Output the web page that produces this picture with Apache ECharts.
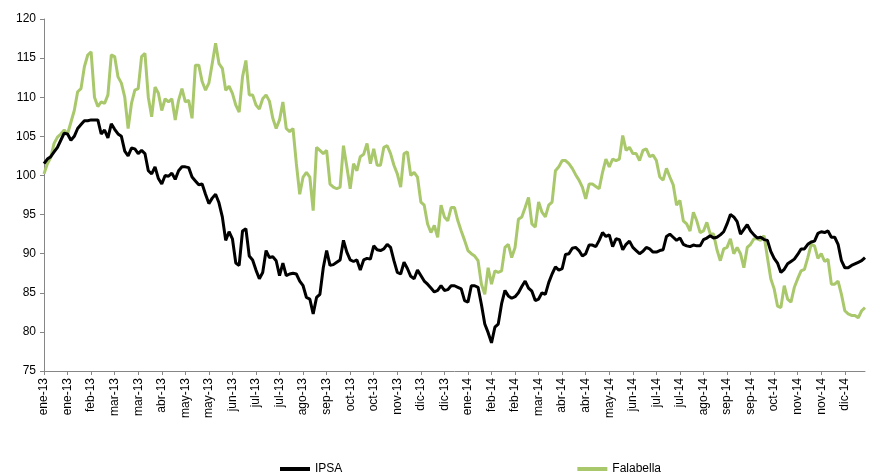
<!DOCTYPE html>
<html>
<head>
<meta charset="utf-8">
<script src="https://cdn.jsdelivr.net/npm/echarts@6/dist/echarts.min.js"></script>
<style>
  html, body { margin: 0; padding: 0; background: #fff; }
  #chart { width: 872px; height: 475px; }
</style>
</head>
<body>
<div id="chart"></div>
<script>
// tick labels, one every 7 points (points are every 2nd trading day)
var xLabels = ['ene-13', 'ene-13', 'feb-13', 'mar-13', 'mar-13', 'abr-13', 'may-13', 'may-13', 'jun-13', 'jul-13', 'jul-13',
    'ago-13', 'sep-13', 'oct-13', 'oct-13', 'nov-13', 'dic-13', 'dic-13', 'ene-14', 'feb-14', 'feb-14', 'mar-14', 'abr-14',
    'abr-14', 'may-14', 'jun-14', 'jul-14', 'jul-14', 'ago-14', 'sep-14', 'sep-14', 'oct-14', 'nov-14', 'nov-14', 'dic-14'];

var ipsa = [
    101.5, 102.1, 102.4, 103.0, 103.6, 104.5, 105.4, 105.3, 104.5, 105.0,
    106.0, 106.5, 107.0, 107.0, 107.1, 107.1, 107.1, 105.3, 105.8, 104.8,
    106.6, 105.9, 105.3, 105.0, 103.1, 102.5, 103.5, 103.4, 102.8, 103.2,
    102.8, 100.6, 100.2, 101.1, 99.6, 98.9, 100.0, 99.9, 100.3, 99.5,
    100.6, 101.1, 101.1, 101.0, 99.8, 99.3, 98.8, 98.9, 97.6, 96.4,
    97.1, 97.6, 96.5, 94.7, 91.7, 92.8, 91.9, 88.8, 88.5, 92.9,
    93.2, 89.7, 89.2, 87.9, 86.8, 87.6, 90.4, 89.5, 89.6, 89.1,
    87.2, 88.8, 87.2, 87.4, 87.5, 87.4, 86.5, 85.9, 84.4, 84.2,
    82.3, 84.4, 84.8, 88.2, 90.4, 88.5, 88.6, 88.9, 89.2, 91.7,
    90.2, 89.2, 89.0, 89.2, 87.9, 89.2, 89.4, 89.3, 91.0, 90.5,
    90.4, 90.6, 91.2, 90.8, 89.1, 87.6, 87.4, 88.9, 88.1, 87.1,
    86.8, 87.9, 87.2, 86.5, 86.1, 85.6, 85.1, 85.3, 85.9, 85.3,
    85.4, 85.9, 85.9, 85.7, 85.5, 84.0, 83.8, 85.9, 85.9, 85.7,
    83.5, 81.0, 79.9, 78.6, 80.6, 81.0, 83.6, 85.3, 84.6, 84.3,
    84.5, 85.0, 85.8, 86.5, 85.6, 85.2, 84.0, 84.2, 85.0, 84.8,
    86.3, 87.4, 88.3, 87.9, 88.1, 89.9, 90.0, 90.7, 90.8, 90.4,
    89.7, 90.0, 91.1, 91.1, 90.9, 91.7, 92.7, 92.2, 92.4, 90.9,
    91.9, 91.8, 90.5, 91.2, 91.6, 90.8, 90.4, 90.0, 90.3, 90.8,
    90.6, 90.2, 90.2, 90.4, 90.5, 92.2, 92.5, 92.1, 91.7, 92.0,
    91.2, 91.0, 90.9, 91.1, 91.0, 91.0, 91.8, 92.0, 92.3, 92.0,
    92.1, 92.4, 92.8, 93.8, 95.0, 94.7, 94.1, 92.5, 93.1, 93.7,
    92.9, 92.4, 92.0, 92.1, 91.8, 91.7, 90.3, 89.4, 88.8, 87.6,
    88.0, 88.7, 89.0, 89.3, 89.9, 90.6, 90.6, 91.2, 91.5, 91.6,
    92.6, 92.8, 92.7, 92.9, 92.1, 92.1, 91.2, 89.1, 88.2, 88.2,
    88.5, 88.7, 88.9, 89.1, 89.5
];

var falabella = [
    100.2, 101.5, 102.3, 104.1, 104.9, 105.3, 105.8, 105.3, 106.8, 108.3,
    110.7, 111.1, 113.9, 115.4, 115.8, 110.0, 108.8, 109.4, 109.2, 110.3,
    115.4, 115.2, 112.6, 111.8, 110.0, 106.0, 109.2, 110.9, 111.1, 115.2,
    115.6, 110.0, 107.5, 111.3, 110.5, 108.3, 109.8, 109.4, 109.8, 107.1,
    109.6, 111.1, 109.4, 109.6, 107.3, 114.1, 114.1, 112.0, 110.9, 111.8,
    114.3, 116.9, 114.3, 113.7, 110.9, 111.4, 110.5, 109.0, 108.1, 112.6,
    114.7, 110.3, 110.3, 109.0, 108.5, 109.8, 110.3, 109.5, 107.3, 106.0,
    107.1, 109.4, 106.0, 105.6, 106.0, 101.5, 97.6, 99.8, 100.4, 99.8,
    95.5, 103.6, 103.2, 102.8, 103.2, 98.9, 98.5, 98.3, 98.5, 103.8,
    101.1, 98.3, 101.5, 100.6, 102.4, 102.7, 104.1, 101.5, 103.4, 101.3,
    101.3, 103.6, 103.8, 102.8, 101.3, 100.2, 98.5, 102.8, 103.0, 100.0,
    100.4, 99.8, 96.6, 96.2, 93.8, 92.7, 93.6, 92.1, 96.2, 94.7,
    94.2, 95.9, 95.9, 94.2, 92.9, 91.7, 90.4, 90.0, 89.7, 89.1,
    86.1, 84.8, 88.2, 86.1, 87.8, 87.6, 87.8, 90.8, 91.2, 89.5,
    90.8, 94.4, 94.7, 95.9, 97.2, 93.8, 93.4, 96.6, 95.3, 94.7,
    96.2, 96.6, 100.6, 101.1, 101.9, 101.9, 101.5, 100.9, 100.1, 99.4,
    98.5, 97.0, 98.9, 98.9, 98.6, 98.3, 100.4, 102.1, 101.1, 102.1,
    101.9, 102.1, 105.1, 103.2, 103.6, 102.8, 102.8, 101.9, 103.2, 103.4,
    102.4, 102.6, 101.9, 99.8, 99.4, 100.9, 99.8, 98.8, 96.2, 96.8,
    94.2, 93.8, 92.9, 95.3, 94.2, 92.7, 92.9, 94.0, 92.5, 92.5,
    90.5, 89.1, 90.6, 90.8, 91.9, 90.0, 90.8, 90.0, 88.2, 90.8,
    91.2, 91.9, 91.9, 91.7, 92.3, 89.5, 86.8, 85.5, 83.3, 83.1,
    85.9, 84.2, 83.8, 85.7, 86.8, 87.8, 88.0, 89.5, 91.2, 91.0,
    89.4, 90.0, 89.0, 89.3, 86.1, 86.1, 86.5, 84.8, 82.7, 82.3,
    82.1, 82.1, 81.8, 82.7, 83.1
];

var labelStep = 7;
var categories = ipsa.map(function (v, i) { return String(i); });

var dom = document.getElementById('chart');
var myChart = echarts.init(dom, null, { renderer: 'canvas' });
var option = {
    animation: false,
    backgroundColor: '#fff',
    textStyle: { fontFamily: 'Liberation Sans, Arial, sans-serif' },
    grid: { left: 44, right: 7, top: 19, bottom: 104 },
    legend: {
        data: ['IPSA', 'Falabella'],
        left: 275,
        top: 458,
        icon: 'rect',
        itemWidth: 30,
        itemHeight: 4,
        itemGap: 235,
        textStyle: { fontSize: 12, color: '#000' }
    },
    xAxis: {
        type: 'category',
        data: categories,
        boundaryGap: false,
        axisLine: { lineStyle: { color: '#868686', width: 1 } },
        axisTick: { interval: labelStep - 1, length: 4, lineStyle: { color: '#868686' } },
        axisLabel: {
            interval: labelStep - 1,
            rotate: 90,
            margin: 7,
            fontSize: 12,
            color: '#000',
            formatter: function (value, idx) {
                return xLabels[Math.round(idx / labelStep)] || '';
            }
        },
        splitLine: { show: false }
    },
    yAxis: {
        type: 'value',
        min: 75,
        max: 120,
        interval: 5,
        axisLine: { show: true, lineStyle: { color: '#868686', width: 1 } },
        axisTick: { show: true, length: 4, lineStyle: { color: '#868686' } },
        axisLabel: { fontSize: 12, color: '#000', margin: 8 },
        splitLine: { show: false }
    },
    series: [{
        name: 'IPSA',
        type: 'line',
        data: ipsa,
        z: 3,
        showSymbol: false,
        symbol: 'none',
        itemStyle: { color: '#000000' },
        lineStyle: { color: '#000000', width: 3 }
    }, {
        name: 'Falabella',
        type: 'line',
        data: falabella,
        z: 2,
        showSymbol: false,
        symbol: 'none',
        itemStyle: { color: '#a9c86c' },
        lineStyle: { color: '#a9c86c', width: 3 }
    }]
};
myChart.setOption(option);
window.addEventListener('resize', myChart.resize);
</script>
</body>
</html>
